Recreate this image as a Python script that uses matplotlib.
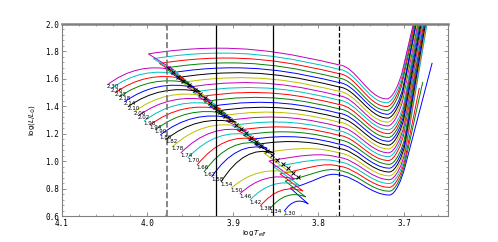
import matplotlib
matplotlib.use('Agg')
import matplotlib.pyplot as plt
from matplotlib.path import Path
from matplotlib.patches import PathPatch
from matplotlib.ticker import MultipleLocator

# track masses (bottom to top) and their key points
masses = [1.30, 1.34, 1.38, 1.42, 1.46, 1.50, 1.54, 1.58, 1.62, 1.66, 1.70, 1.74, 1.78,
          1.82, 1.86, 1.90, 1.94, 1.98, 2.02, 2.06, 2.10, 2.14, 2.18, 2.22, 2.26, 2.30]

# zero-age main sequence
zams_T = [3.840, 3.857, 3.868, 3.880, 3.892, 3.902, 3.914, 3.925, 3.934, 3.942, 3.953, 3.961, 3.971,
          3.979, 3.985, 3.991, 3.997, 4.004, 4.011, 4.016, 4.023, 4.027, 4.033, 4.038, 4.043, 4.047]
zams_L = [0.636, 0.651, 0.673, 0.717, 0.761, 0.804, 0.848, 0.885, 0.921, 0.972, 1.023, 1.060, 1.104,
          1.155, 1.191, 1.228, 1.264, 1.293, 1.330, 1.359, 1.396, 1.432, 1.469, 1.498, 1.527, 1.556]

# end of main sequence (turn-off)
to_T = [3.812, 3.815, 3.818, 3.823, 3.828, 3.832, 3.853, 3.860, 3.866, 3.872, 3.878, 3.884, 3.890,
        3.896, 3.902, 3.908, 3.914, 3.920, 3.926, 3.932, 3.938, 3.945, 3.951, 3.957, 3.963, 3.969]
to_L = [0.688, 0.739, 0.782, 0.826, 0.870, 0.914, 1.061, 1.093, 1.124, 1.156, 1.188, 1.220, 1.252,
        1.283, 1.315, 1.347, 1.379, 1.411, 1.442, 1.474, 1.506, 1.538, 1.570, 1.601, 1.633, 1.665]

# blue end of the hook, start of the Hertzsprung gap
hk_T = [3.833, 3.839, 3.845, 3.852, 3.858, 3.864, 3.874, 3.882, 3.888, 3.895, 3.901, 3.908, 3.914,
        3.921, 3.927, 3.934, 3.940, 3.947, 3.953, 3.960, 3.966, 3.973, 3.980, 3.986, 3.993, 3.999]
hk_L = [0.804, 0.855, 0.907, 0.958, 1.001, 1.060, 1.120, 1.155, 1.189, 1.224, 1.259, 1.294, 1.329,
        1.363, 1.398, 1.433, 1.468, 1.503, 1.538, 1.573, 1.608, 1.643, 1.678, 1.712, 1.747, 1.782]

# luminosity where the tracks cross logT = 3.776
gap_L = [0.899, 0.931, 0.963, 0.995, 1.027, 1.060, 1.092, 1.124, 1.156, 1.188, 1.220, 1.252, 1.284,
         1.316, 1.349, 1.381, 1.413, 1.445, 1.477, 1.509, 1.541, 1.573, 1.605, 1.638, 1.670, 1.702]

# base of the red giant branch
val_T = [3.717, 3.717, 3.717, 3.717, 3.717, 3.717, 3.717, 3.717, 3.717, 3.718, 3.718, 3.718, 3.718,
         3.718, 3.718, 3.718, 3.718, 3.718, 3.719, 3.719, 3.719, 3.719, 3.720, 3.720, 3.720, 3.720]
val_L = [0.753, 0.781, 0.809, 0.837, 0.865, 0.893, 0.921, 0.949, 0.977, 1.005, 1.033, 1.061, 1.089,
         1.117, 1.145, 1.173, 1.201, 1.229, 1.257, 1.285, 1.314, 1.342, 1.370, 1.398, 1.426, 1.454]

# last point on the red giant branch
rgb_T = [3.667, 3.678, 3.682, 3.673, 3.674, 3.674, 3.675, 3.676, 3.677, 3.677, 3.678, 3.679, 3.680,
         3.680, 3.681, 3.682, 3.683, 3.683, 3.684, 3.685, 3.686, 3.686, 3.687, 3.688, 3.689, 3.689]
rgb_L = [1.717, 1.578, 1.534, 2.0, 2.0, 2.0, 2.0, 2.0, 2.0, 2.0, 2.0, 2.0, 2.0,
         2.0, 2.0, 2.0, 2.0, 2.0, 2.0, 2.0, 2.0, 2.0, 2.0, 2.0, 2.0, 2.0]

# crosses along the turn-off band
xm_T = [3.824, 3.830, 3.836, 3.842, 3.848, 3.854, 3.860, 3.867, 3.873, 3.879, 3.885, 3.891, 3.897,
        3.903, 3.909, 3.915, 3.921, 3.927, 3.933, 3.939, 3.945, 3.952, 3.958, 3.964, 3.970, 3.976]
xm_L = [0.885, 0.917, 0.949, 0.980, 1.012, 1.044, 1.076, 1.108, 1.139, 1.171, 1.203, 1.235, 1.267,
        1.298, 1.330, 1.362, 1.394, 1.426, 1.457, 1.489, 1.521, 1.553, 1.585, 1.616, 1.648, 1.680]

# vertical reference lines
solid_T = [3.920, 3.853]
dashed_T = [3.977, 3.776]

colors = ['b', 'g', 'r', 'c', 'm', 'y', 'k']

fig = plt.figure(figsize=(4.98, 2.42), dpi=100)
ax = fig.add_axes([0.1245, 0.1074, 0.7751, 0.7934])

n = len(masses)
for i, m in enumerate(masses):
    c = colors[i % 7]
    f = i / (n - 1)
    T0, L0 = zams_T[i], zams_L[i]
    T1, L1 = to_T[i], to_L[i]
    Th, Lh = hk_T[i], hk_L[i]
    Ld = gap_L[i]
    Tv, Lv = val_T[i], val_L[i]
    Te, Le = rgb_T[i], rgb_L[i]
    Tdash = dashed_T[1]
    span = Th - Tdash
    kT, kL = Tv - 0.018, Lv + 0.2
    sl = (Te - kT) / (Le - kL)
    verts = [(T0, L0), (T0 - 0.45 * (T0 - T1), L1 + 0.06), (T1, L1),
             (Th, Lh),
             (Th - 0.45 * span, Lh + 0.03 + 0.07 * f), (Tdash + 0.25 * span, Ld + 0.03 + 0.05 * f),
             (Tdash, Ld),
             (Tdash - 0.02, Ld - 0.01), (Tv + 0.022, Lv), (Tv, Lv),
             (Tv - 0.007, Lv), (kT - 0.08 * sl, kL - 0.08), (kT, kL),
             (Te, Le)]
    codes = [Path.MOVETO, Path.CURVE3, Path.CURVE3,
             Path.LINETO,
             Path.CURVE4, Path.CURVE4, Path.CURVE4,
             Path.CURVE4, Path.CURVE4, Path.CURVE4,
             Path.CURVE4, Path.CURVE4, Path.CURVE4,
             Path.LINETO]
    ax.add_patch(PathPatch(Path(verts, codes), fill=False, edgecolor=c, lw=0.7))
    ax.annotate('%.2f' % m, (T0, L0), xytext=(4, -1.5), textcoords='offset points',
                ha='center', va='center', fontsize=4)

ax.plot(xm_T, xm_L, 'x', color='k', ms=3.5, mew=0.7)

for t in solid_T:
    ax.axvline(t, color='k', lw=0.9)
ax.axvline(dashed_T[0], color='0.45', lw=1.2, ls='--')
ax.axvline(dashed_T[1], color='k', lw=0.9, ls='--')

ax.set_xlim(4.1, 3.6485)
ax.set_ylim(0.6, 2.0)
ax.xaxis.set_major_locator(MultipleLocator(0.1))
ax.xaxis.set_minor_locator(MultipleLocator(0.02))
ax.yaxis.set_major_locator(MultipleLocator(0.2))
ax.yaxis.set_minor_locator(MultipleLocator(0.04))
ax.tick_params(which='both', direction='in', top=True, right=True, color='0.5',
               labelsize=5.5, pad=2)
ax.tick_params(which='major', length=3, width=0.6)
ax.tick_params(which='minor', length=1.5, width=0.5)
for lab in ax.get_xticklabels() + ax.get_yticklabels():
    lab.set_family('DejaVu Sans Mono')
for s in ax.spines.values():
    s.set_color('0.5')
    s.set_linewidth(0.8)
ax.spines['top'].set_linewidth(1.8)

ax.set_xlabel(r'$\log T_{eff}$', fontsize=5, labelpad=1)
ax.set_ylabel(r'$\log(L/L_{\odot})$', fontsize=5, labelpad=6)

fig.savefig('out.png', dpi=100)
